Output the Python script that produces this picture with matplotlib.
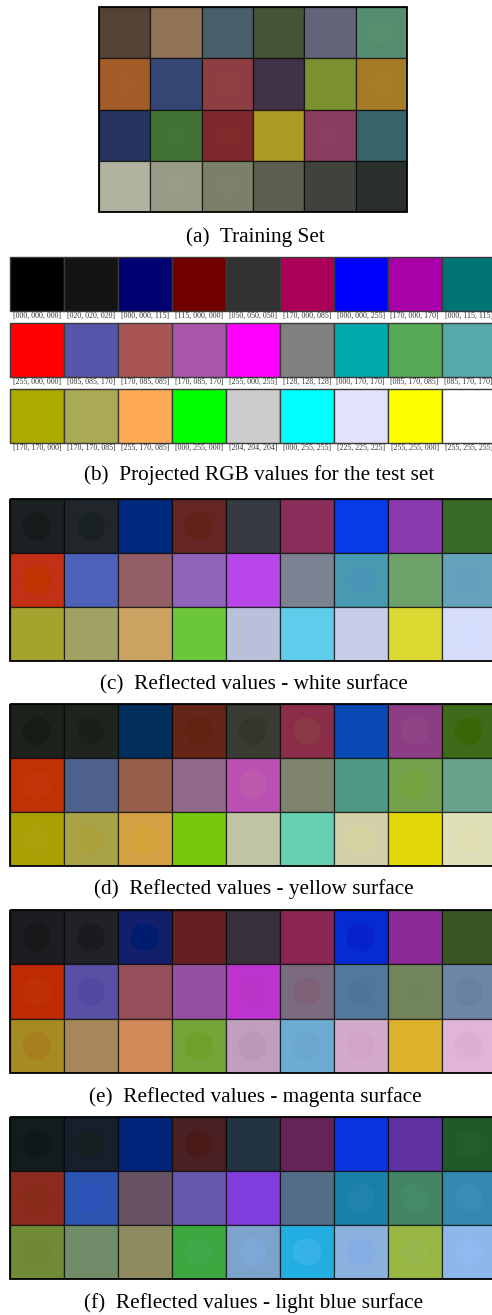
import matplotlib
matplotlib.use("Agg")
import matplotlib.pyplot as plt
from matplotlib.patches import Rectangle, Circle

W, H = 492, 1315

# (a) training set, 6 x 4
train_colors = [
    ["#554236", "#917257", "#485f6a", "#455434", "#636479", "#558e6e"],
    ["#a15c28", "#364674", "#8c3e42", "#413247", "#7b902f", "#a57c26"],
    ["#25335f", "#437334", "#7e2a2c", "#ab9a23", "#893e60", "#37636b"],
    ["#b1b29f", "#989c87", "#7b806b", "#5b5f50", "#3f433b", "#2a2e2d"],
]
train_centers = [
    ["#554236", "#937458", "#485f6a", "#465535", "#64657a", "#56906f"],
    ["#a25d29", "#374775", "#8e4043", "#413247", "#7c912e", "#a67e28"],
    ["#25335f", "#447434", "#7f2b2c", "#ac9b24", "#8a3f61", "#38646c"],
    ["#b1b29f", "#999d88", "#7c816c", "#5b5f50", "#3f433b", "#2a2e2d"],
]

# (b) projected RGB values for the test set, 9 x 3
test_rgb = [
    [(0, 0, 0), (20, 20, 20), (0, 0, 115), (115, 0, 0), (50, 50, 50),
     (170, 0, 85), (0, 0, 255), (170, 0, 170), (0, 115, 115)],
    [(255, 0, 0), (85, 85, 170), (170, 85, 85), (170, 85, 170), (255, 0, 255),
     (128, 128, 128), (0, 170, 170), (85, 170, 85), (85, 170, 170)],
    [(170, 170, 0), (170, 170, 85), (255, 170, 85), (0, 255, 0), (204, 204, 204),
     (0, 255, 255), (225, 225, 225), (255, 255, 0), (255, 255, 255)],
]
# the [225, 225, 225] swatch is printed slightly bluish in the figure
test_display_override = {(2, 6): "#e2e2fa"}

# (c) white surface
white_colors = [
    ["#1b2022", "#20262a", "#002a7e", "#652623", "#353a42", "#8b2d5b", "#073be8", "#8a39ae", "#3a6a28"],
    ["#c23015", "#4e62bb", "#935e66", "#8e65b9", "#b946e8", "#7c8291", "#489ab1", "#6da26a", "#65a3bc"],
    ["#a4a32e", "#a1a166", "#cda364", "#6cc738", "#b9c0da", "#60ccec", "#c9cee8", "#dcda32", "#d6ddf8"],
]
white_centers = [
    ["#151b1b", "#1a2122", "#002a80", "#622218", "#353a42", "#8b2d5b", "#073be8", "#8a39ae", "#3a6a28"],
    ["#c03200", "#4e62bb", "#935e66", "#8e65b9", "#b946e8", "#7c8291", "#4a96b7", "#6da26a", "#62a0be"],
    ["#a4a32e", "#a1a166", "#cda364", "#6cc738", "#b9c0da", "#60ccec", "#c9cee8", "#dcda32", "#d4ddfb"],
]

# (d) yellow surface
yellow_colors = [
    ["#1c211c", "#20241f", "#022f5e", "#652618", "#393c33", "#8b2d48", "#0849b4", "#8c3d85", "#3d6a1b"],
    ["#c23103", "#4f628d", "#96604c", "#926a8b", "#bb51b2", "#7e846d", "#4e9985", "#74a24b", "#6aa38c"],
    ["#a8a005", "#a8a347", "#d4a244", "#78c80f", "#c1c3a5", "#68d0b2", "#d2d1a9", "#e2d807", "#dfdfb9"],
]
yellow_centers = [
    ["#141c14", "#1a2019", "#022f5e", "#622410", "#33372a", "#8a3844", "#0849b4", "#8e4585", "#3b6608"],
    ["#c33508", "#4f628d", "#96604c", "#926a8b", "#bc5aae", "#7e846d", "#4e9985", "#74a23e", "#6aa38c"],
    ["#aaa008", "#aaa13c", "#d4a43a", "#78c80f", "#c1c3a5", "#68d0b2", "#d5d39f", "#e2d807", "#e0dfb2"],
]

# (e) magenta surface
magenta_colors = [
    ["#1c1d21", "#222226", "#131f6b", "#652021", "#372f3b", "#8b2553", "#052bd5", "#8c2b97", "#3b5623"],
    ["#bd2a04", "#5850a5", "#954f5a", "#9451a2", "#bd34ce", "#7c6a80", "#52799c", "#72865e", "#6f85a5"],
    ["#a68a22", "#a6875c", "#d38858", "#73a636", "#bf9ebe", "#6cabd2", "#d3aacc", "#ddb22c", "#e1b4d9"],
]
magenta_centers = [
    ["#171819", "#1b1b1f", "#001c6f", "#652021", "#372f3b", "#8b2553", "#0522cb", "#8c2b97", "#3b5623"],
    ["#c03008", "#5449a0", "#954f5a", "#9451a2", "#bc33c8", "#7e6277", "#4f7698", "#70855a", "#6a80a0"],
    ["#a6801e", "#a6875c", "#d38858", "#6fa02a", "#bb98b9", "#6aa6cf", "#d3a4c7", "#ddb22c", "#dfaed5"],
]

# (f) light blue surface
lightblue_colors = [
    ["#121c1f", "#17202a", "#02237a", "#4a2022", "#233341", "#652458", "#0a34e0", "#6031a0", "#215a2a"],
    ["#8c2a1e", "#2b53b0", "#675264", "#6756ae", "#813ddd", "#536d86", "#1980a7", "#438563", "#3288ae"],
    ["#718a36", "#718c68", "#8f8b60", "#3ba73f", "#7ba3cc", "#22aee0", "#8ab2dc", "#97b742", "#8cb7e8"],
]
lightblue_centers = [
    ["#0c1819", "#161e22", "#02237a", "#4a1a18", "#233341", "#652458", "#0a34e0", "#6031a0", "#245c2c"],
    ["#862c18", "#2c52b8", "#675264", "#6756ae", "#813ddd", "#536d86", "#2083ae", "#448a66", "#3a8cb4"],
    ["#708834", "#718c68", "#8f8b60", "#40a848", "#7ca8d8", "#36b2e8", "#84aee4", "#98b84e", "#8fbaf0"],
]

captions = [
    "(a)  Training Set",
    "(b)  Projected RGB values for the test set",
    "(c)  Reflected values - white surface",
    "(d)  Reflected values - yellow surface",
    "(e)  Reflected values - magenta surface",
    "(f)  Reflected values - light blue surface",
]

SERIF = ["Liberation Serif", "DejaVu Serif"]


def px_axes(fig, x0, x1, y0, y1):
    # pixel box (top-left origin) -> figure axes
    ax = fig.add_axes([x0 / W, 1 - y1 / H, (x1 - x0) / W, (y1 - y0) / H])
    ax.set_axis_off()
    return ax


def draw_grid(ax, colors, centers, radius=0.26):
    nrows, ncols = len(colors), len(colors[0])
    ax.set_xlim(0, ncols)
    ax.set_ylim(nrows, 0)
    for r in range(nrows):
        for c in range(ncols):
            ax.add_patch(Rectangle((c, r), 1, 1, facecolor=colors[r][c],
                                   edgecolor=(0, 0, 0, 0.7), linewidth=0.9))
            ax.add_patch(Circle((c + 0.5, r + 0.5), radius, facecolor=centers[r][c],
                                edgecolor="none"))
    ax.add_patch(Rectangle((0, 0), ncols, nrows, facecolor="none",
                           edgecolor="black", linewidth=1.3, clip_on=False))


def rgb_hex(rgb):
    return "#%02x%02x%02x" % rgb


fig = plt.figure(figsize=(W / 100, H / 100), dpi=100)

# (a)
ax = px_axes(fig, 99, 407, 7, 212)
draw_grid(ax, train_colors, train_centers, radius=0.23)

# (b) one axes per row, with labels below
GX0, GX1 = 10, 495.6
for r, (y0, y1) in enumerate([(257, 311), (323, 377), (389, 443)]):
    ax = px_axes(fig, GX0, GX1, y0, y1)
    ncols = len(test_rgb[r])
    ax.set_xlim(0, ncols)
    ax.set_ylim(1, 0)
    for c, rgb in enumerate(test_rgb[r]):
        face = test_display_override.get((r, c), rgb_hex(rgb))
        ax.add_patch(Rectangle((c, 0), 1, 1, facecolor=face,
                               edgecolor="#3a3a3a", linewidth=1.0, clip_on=False))
        ax.text(c + 0.5, 1.08, "[%03d, %03d, %03d]" % rgb, ha="center", va="center",
                fontsize=5.7, color="#333333", family=SERIF, clip_on=False)

# (c) - (f)
for (y0, y1), cols, cents in [
    ((499, 661), white_colors, white_centers),
    ((704, 866), yellow_colors, yellow_centers),
    ((910, 1073), magenta_colors, magenta_centers),
    ((1117, 1279), lightblue_colors, lightblue_centers),
]:
    ax = px_axes(fig, GX0, GX1, y0, y1)
    draw_grid(ax, cols, cents)

# captions
for text, (cx, cy) in zip(captions, [(255.5, 237), (259.5, 475), (254, 685),
                                     (254, 889), (255, 1097), (254, 1303)]):
    fig.text(cx / W, 1 - cy / H, text, ha="center", va="center",
             fontsize=15.3, family=SERIF, color="black")

fig.savefig("out.png", dpi=100)
